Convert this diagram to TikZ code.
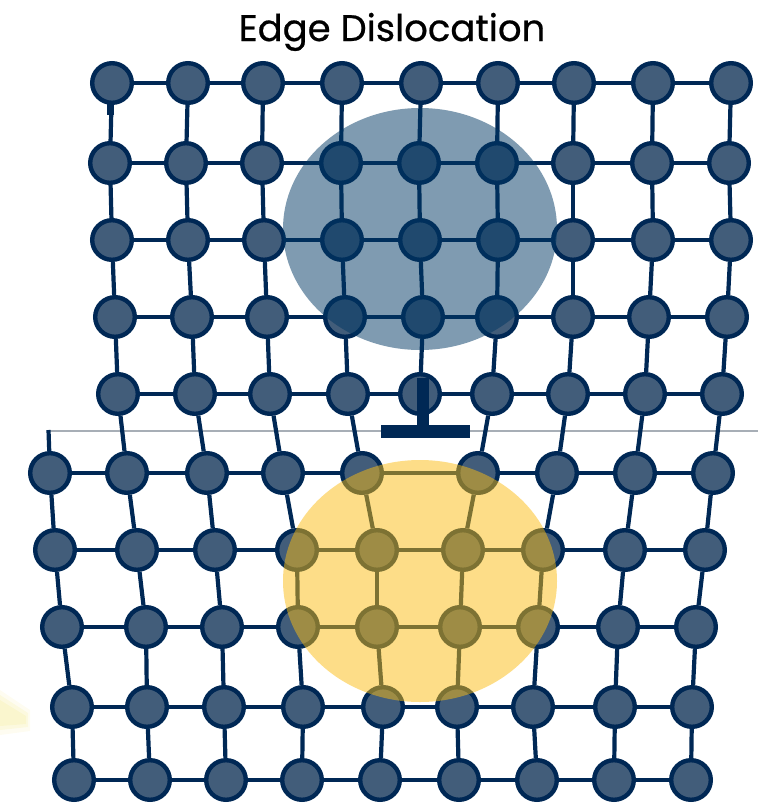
\documentclass[tikz,border=0pt]{standalone}
\usepackage{fontspec}
\newfontfamily\titlefont{Poppins}[FakeBold=0.6]
\definecolor{navy}{HTML}{002855}
\definecolor{atomfill}{HTML}{425D7A}
\definecolor{halo}{HTML}{003763}
\definecolor{gold}{HTML}{FBBC12}
\definecolor{slipgray}{HTML}{A7AEB6}
\definecolor{paleyellow}{HTML}{F3E98C}
\begin{document}
\begin{tikzpicture}[x=1pt,y=-1pt,
  atom/.style={circle,draw=navy,fill=atomfill,line width=4.4pt,minimum size=39.6pt,inner sep=0pt},
  bond/.style={draw=navy,line width=4.2pt},
  slip/.style={draw=slipgray,line width=1.3pt},
  marker/.style={fill=navy},
  overlay/.style={opacity=0.5}]
\useasboundingbox (0,0) rectangle (758,803);

% slip plane
\draw[slip] (50,431) -- (758,431);

% atoms, row by row
\foreach \r/\y/\xs in {
  1/83/{112,188,263,342,421,498,574,653,731},
  2/163/{110,186,262,341,419,497,573,652,729},
  3/240/{112,188,264,342,420,498,573,653,731},
  4/317/{115,192,267,345,423,497,573,649,727},
  5/394/{118,195,270,348,420,492,568,645,722},
  6/473/{50,127,207,283,362,478,557,635,713},
  7/550/{55,137,215,297,377,463,543,625,705},
  8/627/{62,146,222,298,377,460,538,618,696},
  9/707/{72,147,224,303,383,457,533,615,692},
  10/780/{74,150,226,302,380,459,537,614,691}}{
  \foreach \x [count=\c] in \xs {
    \node[atom] (a\r-\c) at (\x,\y) {};
  }
}

% horizontal bonds
\foreach \r in {1,...,10}{
  \foreach \c [evaluate=\c as \n using int(\c+1)] in {1,...,8}{
    \draw[bond] (a\r-\c) -- (a\r-\n);
  }
}
% vertical bonds, upper block
\foreach \r [evaluate=\r as \n using int(\r+1)] in {1,...,4}{
  \foreach \c in {1,...,9}{
    \draw[bond] (a\r-\c) -- (a\n-\c);
  }
}
% across the slip plane
\foreach \c [evaluate=\c as \n using int(\c+1)] in {1,...,4}{
  \draw[bond] (a5-\c) -- (a6-\n);
}
\foreach \c in {6,...,9}{
  \draw[bond] (a5-\c) -- (a6-\c);
}
% vertical bonds, lower block
\foreach \r [evaluate=\r as \n using int(\r+1)] in {6,...,9}{
  \foreach \c in {1,...,9}{
    \draw[bond] (a\r-\c) -- (a\n-\c);
  }
}
% dangling bond at the left end of the slip plane
\coordinate (stub) at (48.5,430);
\draw[bond] (a6-1) -- (stub);
\fill[marker] (107,103) rectangle (113.5,115);

% highlighted regions
\fill[halo,overlay] (420,229) ellipse [x radius=137, y radius=121];
\fill[gold,overlay] (420,581) ellipse [x radius=137, y radius=121];

% dislocation symbol
\fill[marker] (417,378) rectangle (429,426);
\fill[marker] (380.5,425) rectangle (470,438);

% faint wedge at the lower left
\fill[paleyellow,opacity=0.12] (0,690) -- (30,710) -- (30,731) -- (0,735) -- cycle;
\fill[paleyellow,opacity=0.18] (0,695) -- (28,713) -- (28,727) -- (0,730) -- cycle;
\fill[paleyellow,opacity=0.2] (0,700) -- (26,716) -- (26,724) -- (0,726) -- cycle;

% title
\node[font=\titlefont\fontsize{37}{40}\selectfont,anchor=base,inner sep=0pt] (title) at (392,41) {Edge Dislocation};
\end{tikzpicture}
\end{document}
